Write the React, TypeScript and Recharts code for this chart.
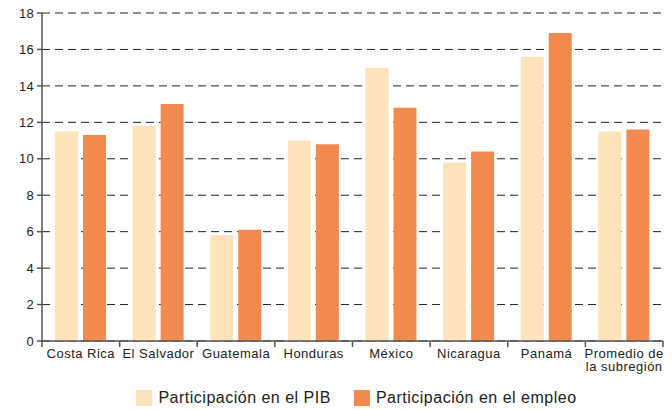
import { BarChart, Bar, CartesianGrid, XAxis, YAxis, Legend } from "recharts";

const categories = [
  "Costa Rica",
  "El Salvador",
  "Guatemala",
  "Honduras",
  "México",
  "Nicaragua",
  "Panamá",
  "Promedio de\nla subregión",
];
const pibShare = [11.5, 11.8, 5.8, 11.0, 15.0, 9.8, 15.6, 11.5];
const empleoShare = [11.3, 13.0, 6.1, 10.8, 12.8, 10.4, 16.9, 11.6];
const yTicks = [0, 2, 4, 6, 8, 10, 12, 14, 16, 18];

const data = categories.map((name, i) => ({
  name,
  pib: pibShare[i],
  empleo: empleoShare[i],
}));

const W = 672;
const H = 410;
const LEFT = 42;
const RIGHT = 9;
const BAND = (W - LEFT - RIGHT) / categories.length;
const FONT = "'Liberation Sans', Arial, Helvetica, sans-serif";
const AXIS = "#555";

const CategoryTick = (props: any) => {
  const { x, y, payload, index } = props;
  const lines = String(payload.value).split("\n");
  return (
    <g>
      <line x1={x - BAND / 2} y1={y} x2={x - BAND / 2} y2={y + 6} stroke={AXIS} strokeWidth={1.5} />
      {index === categories.length - 1 && (
        <line x1={x + BAND / 2} y1={y} x2={x + BAND / 2} y2={y + 6} stroke={AXIS} strokeWidth={1.5} />
      )}
      <text x={x} y={y} textAnchor="middle" fontSize={13} letterSpacing={0.5} fill="#222" fontFamily={FONT}>
        {lines.map((l, i) => (
          <tspan key={i} x={x} dy={i === 0 ? 16.5 : 13.5}>
            {l}
          </tspan>
        ))}
      </text>
    </g>
  );
};

const LegendContent = () => (
  <div
    style={{
      display: "flex",
      justifyContent: "center",
      alignItems: "center",
      fontFamily: FONT,
      fontSize: 16,
      letterSpacing: 0.5,
      color: "#222",
      paddingLeft: 50,
    }}
  >
    <span style={{ width: 16, height: 16, background: "#FDE3BC", display: "inline-block", marginRight: 6 }} />
    <span style={{ marginRight: 23 }}>Participación en el PIB</span>
    <span style={{ width: 16, height: 16, background: "#F28A50", display: "inline-block", marginRight: 6 }} />
    <span>Participación en el empleo</span>
  </div>
);

export default function App() {
  return (
    <div style={{ position: "absolute", left: 0, top: 0, background: "#fff" }}>
      <BarChart
        width={W}
        height={H}
        data={data}
        margin={{ top: 13, right: RIGHT, left: 0, bottom: 0 }}
        barSize={23}
        barGap={5}
      >
        <CartesianGrid vertical={false} stroke="#222" strokeDasharray="8 5" />
        <XAxis
          dataKey="name"
          interval={0}
          height={51}
          tickLine={false}
          tickSize={0}
          tickMargin={0}
          tick={<CategoryTick />}
          axisLine={{ stroke: AXIS, strokeWidth: 1.5 }}
        />
        <YAxis
          width={LEFT}
          domain={[0, 18]}
          ticks={yTicks}
          interval={0}
          tickSize={5}
          tickMargin={3}
          tick={{ fontSize: 13, fill: "#222", fontFamily: FONT, letterSpacing: 0.3 }}
          tickLine={{ stroke: AXIS, strokeWidth: 1.5 }}
          axisLine={{ stroke: AXIS, strokeWidth: 1.5 }}
        />
        <Legend verticalAlign="bottom" wrapperStyle={{ bottom: 3 }} content={<LegendContent />} />
        <Bar dataKey="pib" name="Participación en el PIB" fill="#FDE3BC" isAnimationActive={false} />
        <Bar dataKey="empleo" name="Participación en el empleo" fill="#F28A50" isAnimationActive={false} />
      </BarChart>
    </div>
  );
}
